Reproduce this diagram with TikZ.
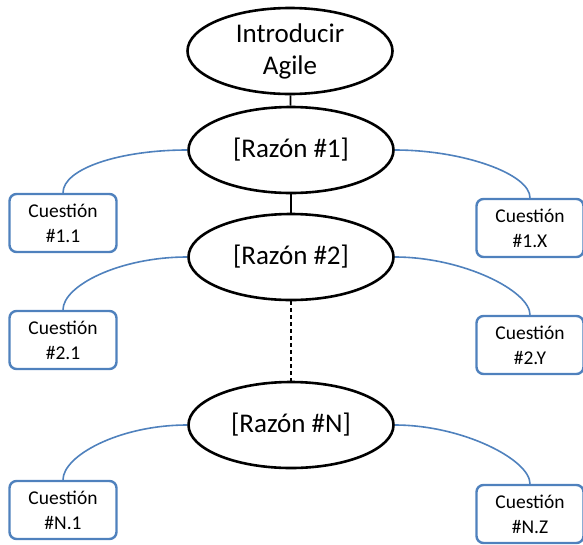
\documentclass[tikz,border=0pt]{standalone}
\usepackage{fontspec}
\setmainfont{Carlito}
\usetikzlibrary{shapes.geometric}
\definecolor{officeBlue}{RGB}{79,129,189}
\tikzset{
    reason/.style={draw=black, line width=2.6pt, ellipse, inner sep=0pt,
        minimum width=205pt, minimum height=86pt, align=center,
        font=\fontsize{27}{32}\selectfont},
    question/.style={draw=officeBlue, line width=2.4pt, rounded corners=7pt,
        minimum width=107pt, minimum height=58pt, inner sep=0pt, align=center,
        font=\fontsize{19.5}{25}\selectfont},
    branch/.style={draw=officeBlue, line width=1.6pt},
    spine/.style={draw=black, line width=1.6pt}
}

\begin{document}
\begin{tikzpicture}[x=1pt, y=-1pt]
    % Canvas
    \useasboundingbox (0,0) rectangle (583,544);

    % Globals
    \pgfmathsetmacro{\midX}{291}
    \pgfmathsetmacro{\leftX}{63}
    \pgfmathsetmacro{\rightX}{530}

    % Reasons
    \node[reason] (TOP) at (290,51) {Introducir\\Agile};
    \node[reason] (R1) at (\midX,150) {[Razón \#1]};
    \node[reason] (R2) at (\midX,257) {[Razón \#2]};
    \node[reason] (RN) at (\midX,425) {[Razón \#N]};

    % Spine
    \draw[spine] (TOP) -- (R1);
    \draw[spine] (R1) -- (R2);
    \draw[spine, dash pattern=on 4pt off 3pt] (R2) -- (RN);

    % Questions
    \node[question] (Q11) at (\leftX,223) {Cuestión\\\#1.1};
    \node[question] (Q1X) at (\rightX,228) {Cuestión\\\#1.X};
    \node[question] (Q21) at (\leftX,340) {Cuestión\\\#2.1};
    \node[question] (Q2Y) at (\rightX,345) {Cuestión\\\#2.Y};
    \node[question] (QN1) at (\leftX,510) {Cuestión\\\#N.1};
    \node[question] (QNZ) at (\rightX,514) {Cuestión\\\#N.Z};

    % Branches (quarter arcs)
    \tikzset{quarter/.style={out distance=68pt, in distance=24pt}}
    \draw[branch] (R1.west) to[out=180, in=90, quarter] (Q11.north);
    \draw[branch] (R1.east) to[out=0, in=90, quarter] (Q1X.north);
    \draw[branch] (R2.west) to[out=180, in=90, quarter] (Q21.north);
    \draw[branch] (R2.east) to[out=0, in=90, quarter] (Q2Y.north);
    \draw[branch] (RN.west) to[out=180, in=90, quarter] (QN1.north);
    \draw[branch] (RN.east) to[out=0, in=90, quarter] (QNZ.north);

\end{tikzpicture}
\end{document}
